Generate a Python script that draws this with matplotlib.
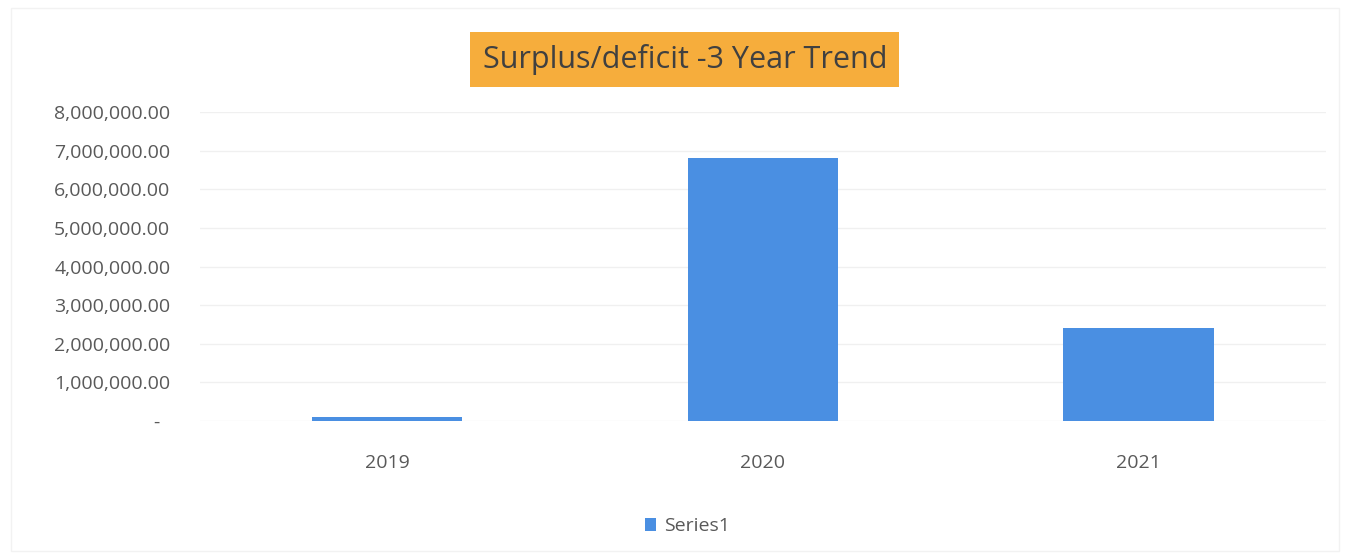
import matplotlib.pyplot as plt
from matplotlib.ticker import FuncFormatter
from matplotlib.patches import Rectangle

years = ['2019', '2020', '2021']
surplus = [100000, 6810000, 2410000]
series_name = 'Series1'
y_ticks = [0, 1000000, 2000000, 3000000, 4000000, 5000000, 6000000, 7000000, 8000000]


def money_fmt(v, pos):
    # accounting style: zero shows as a dash
    if v == 0:
        return '-  '
    return f'{v:,.2f}'


plt.rcParams['font.family'] = ['Open Sans', 'DejaVu Sans']

fig = plt.figure(figsize=(13.48, 5.57), dpi=100)
ax = fig.add_axes([0.148, 0.244, 0.836, 0.555])

bars = ax.bar(years, surplus, width=0.4, color='#4A8FE2', label=series_name, zorder=3)

ax.set_ylim(0, 8000000)
ax.set_xlim(-0.5, 2.5)
ax.set_yticks(y_ticks)
ax.yaxis.set_major_formatter(FuncFormatter(money_fmt))
ax.grid(axis='y', color='#f0f0f0', linewidth=1, zorder=0)
for side in ['top', 'right', 'left', 'bottom']:
    ax.spines[side].set_visible(False)
ax.tick_params(axis='both', length=0, labelsize=14, colors='#595959')
ax.tick_params(axis='y', pad=21)
ax.tick_params(axis='x', pad=24)

fig.text(0.508, 0.893, 'Surplus/deficit -3 Year Trend', ha='center', va='center',
         fontsize=22, color='#404040',
         bbox=dict(boxstyle='square,pad=0.4', facecolor='#F6AD3C', edgecolor='none'))

leg = fig.legend(handles=[bars], labels=[series_name], loc='center', bbox_to_anchor=(0.51, 0.055),
                 frameon=False, fontsize=14, handlelength=0.6, handleheight=0.6,
                 handletextpad=0.4)
for t in leg.get_texts():
    t.set_color('#595959')

# faint chart-area border
fig.patches.append(Rectangle((0.008, 0.01), 0.985, 0.975, transform=fig.transFigure,
                             fill=False, edgecolor='#f2f2f2', linewidth=1))

fig.savefig('out.png', dpi=100)
